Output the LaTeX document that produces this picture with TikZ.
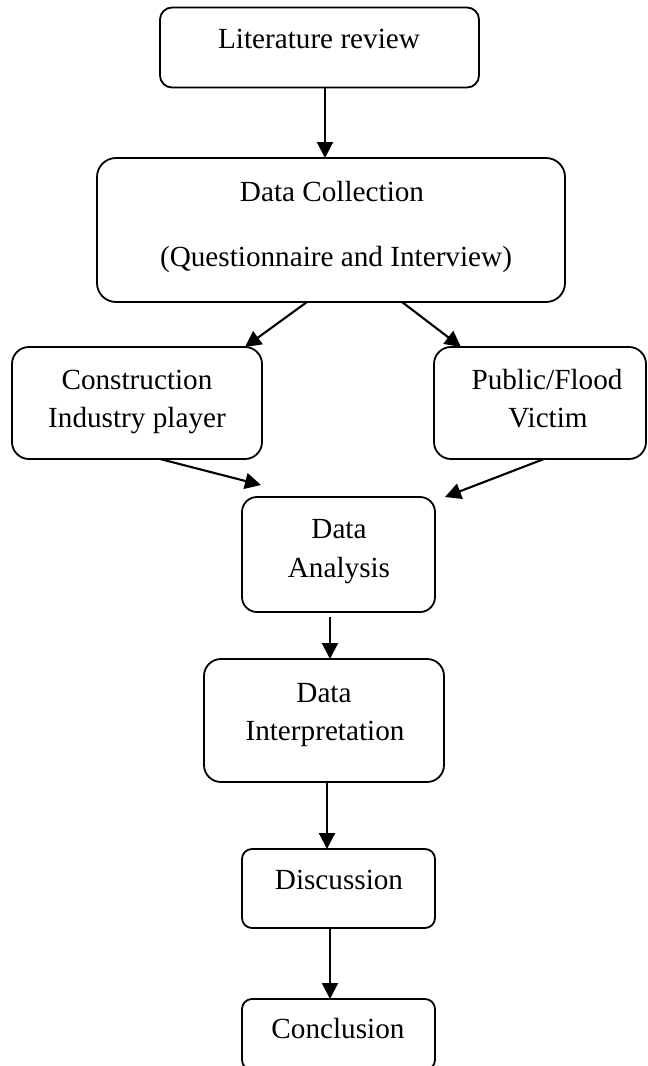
\documentclass[tikz,border=0pt]{standalone}
\usepackage{fontspec}
\setmainfont{Liberation Serif}
\usetikzlibrary{arrows.meta}
\begin{document}
\begin{tikzpicture}[x=0.5pt,y=-0.5pt,
  box/.style={draw, line width=0.9pt, inner sep=0pt, outer sep=0pt},
  lbl/.style={anchor=base, inner sep=0pt, font=\fontsize{14.6pt}{17pt}\selectfont},
  arr/.style={line width=1.05pt, -{Triangle[width=8pt,length=8pt]}}]
\clip (0,0) rectangle (648,1066);
% boxes
\node[box, minimum width=159.5pt, minimum height=40pt, rounded corners=6pt] (lit) at (319.5,47.5) {};
\node[box, minimum width=234pt, minimum height=72pt, rounded corners=9.5pt] (dc) at (331,230) {};
\node[box, minimum width=125pt, minimum height=56pt, rounded corners=8.5pt] (con) at (137,403) {};
\node[box, minimum width=106pt, minimum height=56pt, rounded corners=8.5pt] (pub) at (540,403) {};
\node[box, minimum width=96.5pt, minimum height=57.5pt, rounded corners=7.5pt] (da) at (338.5,554.5) {};
\node[box, minimum width=120pt, minimum height=61.5pt, rounded corners=8.5pt] (di) at (324,720.5) {};
\node[box, minimum width=96.5pt, minimum height=39.5pt, rounded corners=5pt] (dis) at (338.5,888.5) {};
\node[box, minimum width=96.5pt, minimum height=35.5pt, rounded corners=5pt] (conc) at (338.5,1034.5) {};
% texts
\node[lbl] (tlit) at (319,48) {Literature review};
\node[lbl] (tdc1) at (332,201) {Data Collection};
\node[lbl] (tdc2) at (336,266) {(Questionnaire and Interview)};
\node[lbl] (tcon1) at (137,389) {Construction};
\node[lbl] (tcon2) at (137,427) {Industry player};
\node[lbl] (tpub1) at (547,389) {Public/Flood};
\node[lbl] (tpub2) at (548,427) {Victim};
\node[lbl] (tda1) at (339,538) {Data};
\node[lbl] (tda2) at (339,577) {Analysis};
\node[lbl] (tdi1) at (324,702) {Data};
\node[lbl] (tdi2) at (325,740) {Interpretation};
\node[lbl] (tdis) at (339,889) {Discussion};
\node[lbl] (tconc) at (338,1038) {Conclusion};
% connector end points
\coordinate (a1s) at (325,88);  \coordinate (a1e) at (325,158);
\coordinate (a2s) at (307,302); \coordinate (a2e) at (245,347);
\coordinate (a3s) at (402,302); \coordinate (a3e) at (461,347);
\coordinate (a4s) at (160,459); \coordinate (a4e) at (261,485);
\coordinate (a5s) at (544,459); \coordinate (a5e) at (445,497);
\coordinate (a6s) at (330,617); \coordinate (a6e) at (330,659);
\coordinate (a7s) at (327,782); \coordinate (a7e) at (327,849);
\coordinate (a8s) at (330,928); \coordinate (a8e) at (330,999);
% connectors
\draw[arr] (lit.south -| a1s) -- (dc.north -| a1e);
\draw[arr] (dc.south -| a2s) -- (con.north -| a2e);
\draw[arr] (dc.south -| a3s) -- (pub.north -| a3e);
\draw[arr] (con.south -| a4s) -- (a4e);
\draw[arr] (pub.south -| a5s) -- (a5e);
\draw[arr] (a6s) -- (di.north -| a6e);
\draw[arr] (di.south -| a7s) -- (dis.north -| a7e);
\draw[arr] (dis.south -| a8s) -- (conc.north -| a8e);
\end{tikzpicture}
\end{document}
